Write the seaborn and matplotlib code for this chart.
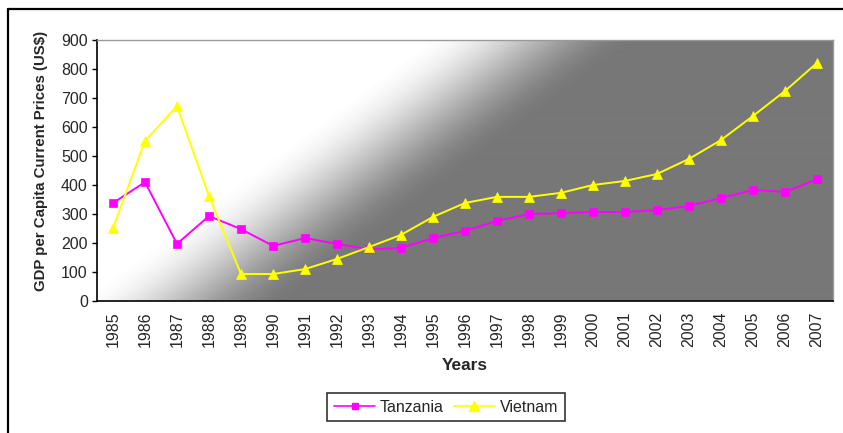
import numpy as np
import pandas as pd
import seaborn as sns
import matplotlib.pyplot as plt
from matplotlib.lines import Line2D

years = list(range(1985, 2008))
tanzania = [338, 410, 197, 293, 248, 190, 217, 197, 178, 183, 217, 242, 276, 300,
            303, 307, 307, 313, 328, 355, 383, 376, 420]
vietnam = [251, 552, 672, 362, 93, 93, 110, 145, 186, 228, 290, 338, 359, 359,
           373, 400, 414, 438, 490, 555, 638, 724, 821]
y_ticks = list(range(0, 1000, 100))

df = pd.DataFrame({
    "year": years * 2,
    "gdp": tanzania + vietnam,
    "country": ["Tanzania"] * len(years) + ["Vietnam"] * len(years),
})

sns.set_style("white")
plt.rcParams["font.family"] = ["Liberation Sans", "DejaVu Sans"]

fig = plt.figure(figsize=(8.43, 4.33), dpi=100)
ax = fig.add_axes([97 / 843, 1 - 301 / 433, 736 / 843, 261 / 433])

# diagonal white -> grey background, like the excel plot area fill
H, W = 261, 736
yy, xx = np.mgrid[0:H, 0:W]
d = (xx * 261 + yy * 350) / np.hypot(261, 350)
t = np.clip((d - 195) / (325 - 195), 0, 1)
t = t * t * (3 - 2 * t)
shade = 1 - t * (1 - 0x77 / 255)
ax.imshow(shade, cmap="gray", vmin=0, vmax=1, extent=[0, 1, 0, 1],
          transform=ax.transAxes, aspect="auto", zorder=0, interpolation="bilinear")

sns.lineplot(data=df, x="year", y="gdp", hue="country", style="country",
             palette={"Tanzania": "#FF00FF", "Vietnam": "#FFFF00"},
             markers={"Tanzania": "s", "Vietnam": "^"}, dashes=False,
             markersize=6, markeredgewidth=0.5, linewidth=1.4, ax=ax, zorder=3)
for ln in ax.lines:
    ln.set_markeredgecolor(ln.get_color())
    if ln.get_marker() == "^":
        ln.set_markersize(7.2)

ax.set_xlim(years[0] - 0.5, years[-1] + 0.5)
ax.set_ylim(0, 900)
ax.set_yticks(y_ticks)
ax.set_xticks(years)
ax.set_xticklabels([str(y) for y in years], rotation=90)
ax.set_xticks(np.arange(years[0] - 0.5, years[-1] + 1), minor=True)
ax.tick_params(axis="x", which="major", length=0, labelsize=11.5, pad=7.5)
ax.tick_params(axis="x", which="minor", length=3.2, width=1, direction="out", color="black")
ax.tick_params(axis="y", length=3.6, width=1, direction="out", color="black",
               labelsize=11.5, left=True, pad=3)

for s in ["left", "bottom"]:
    ax.spines[s].set_color("black")
    ax.spines[s].set_linewidth(1.2)
for s in ["top", "right"]:
    ax.spines[s].set_color("#9a9a9a")
    ax.spines[s].set_linewidth(1.0)

ax.set_xlabel("Years", fontsize=12.4, fontweight="bold", labelpad=8)
ax.set_ylabel("GDP per Capita Current Prices (US$)", fontsize=10.8, fontweight="bold")
ax.yaxis.set_label_coords(-0.067, 0.536)

ax.get_legend().remove()
handles = [
    Line2D([], [], color="#FF00FF", marker="s", markersize=5, lw=1.2),
    Line2D([], [], color="#FFFF00", marker="^", markersize=7, lw=1.2),
]
leg = fig.legend(handles, ["Tanzania", "Vietnam"], loc="center",
                 bbox_to_anchor=(446 / 843, 1 - 407 / 433), ncol=2, fontsize=11.5,
                 frameon=True, fancybox=False, edgecolor="black", handlelength=2.6,
                 columnspacing=0.6, handletextpad=0.3, borderpad=0.4)
leg.get_frame().set_linewidth(1.2)

# outer chart frame (cut off at right and bottom)
fig.add_artist(Line2D([8 / 843, 8 / 843], [0, 1 - 9 / 433], color="black", lw=1.6))
fig.add_artist(Line2D([8 / 843, 1], [1 - 9 / 433, 1 - 9 / 433], color="black", lw=1.6))

fig.savefig("out.png", dpi=100)
